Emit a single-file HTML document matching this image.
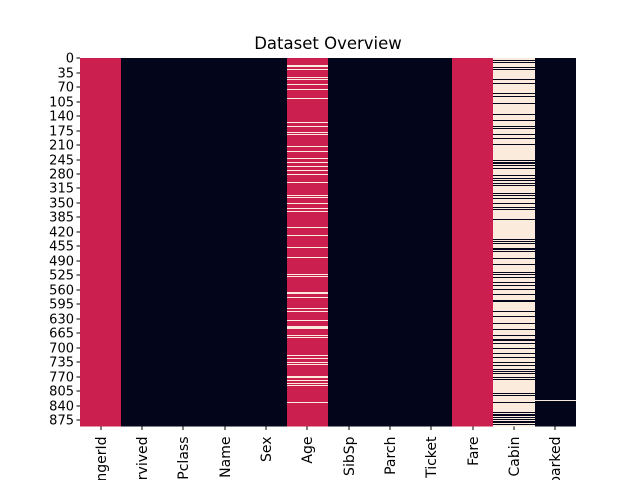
<!DOCTYPE html>
<html><head><meta charset="utf-8"><style>
html,body{margin:0;background:#fff;width:640px;height:480px;overflow:hidden;}
svg{display:block;font-family:"DejaVu Sans","Liberation Sans",sans-serif;overflow:hidden;}
</style></head><body>
<svg id="chart" width="640" height="480" viewBox="0 0 640 480" shape-rendering="crispEdges">
<defs><clipPath id="frame"><rect x="0" y="0" width="640" height="480"/></clipPath></defs>
<text x="328" y="49" font-size="16.5" text-anchor="middle" fill="#000">Dataset Overview</text>
<g id="cells"></g>
<g id="yticks"></g>
<g id="xticks" clip-path="url(#frame)"></g>
</svg>
<script>
const columns=["PassengerId","Survived","Pclass","Name","Sex","Age","SibSp","Parch","Ticket","Fare","Cabin","Embarked"];
const baseValue=[0.5,0,0,0,0,0.5,0,0,0,0.5,1,0];
const ageMissing=[19,20,27,46,53,63,75,99,155,165,166,179,184,213,225,242,252,262,272,281,300,301,332,337,352,363,364,371,410,411,429,458,482,524,528,567,570,579,606,613,635,650,652,653,671,676,720,727,737,742,771,773,780,788,793,832];
const cabinPresent=[7,10,22,27,28,51,52,61,87,94,109,136,150,165,170,184,194,208,209,247,248,252,255,259,267,284,291,296,303,304,308,327,328,332,339,351,361,366,390,439,444,448,461,462,463,468,485,499,500,519,524,531,543,550,560,572,587,588,613,625,642,657,672,681,682,691,703,715,725,737,744,752,759,764,773,778,810,815,834,858,861,865,870,873,878,882,887];
const embarkedMissing=[829];
const nRows=891;
const yTickLabels=[0,35,70,105,140,175,210,245,280,315,350,385,420,455,490,525,560,595,630,665,700,735,770,805,840,875];

const L=80,R=576,T=58,B=426.5;
const colW=(R-L)/columns.length, rowH=(B-T)/nRows;
const xCol=i=>L+i*colW;
const yRow=r=>T+r*rowH;
function color(v){return v>=1?"#faebdd":(v<=0?"#03051a":"#cb1f4f");}
const NS="http://www.w3.org/2000/svg";
const cells=document.getElementById("cells");
function rect(x,y,w,h,fill,name){
  const r=document.createElementNS(NS,"rect");
  r.setAttribute("x",x);r.setAttribute("y",y);r.setAttribute("width",w);r.setAttribute("height",h);r.setAttribute("fill",fill);
  
  
  cells.appendChild(r);
}
columns.forEach((c,i)=>rect(Math.round(xCol(i)),T,Math.round(xCol(i+1))-Math.round(xCol(i)),B-T,color(baseValue[i]),"column-"+c.toLowerCase()));
function stripes(list,ci,v,name){
  const x0=Math.round(xCol(ci)), x1=Math.round(xCol(ci+1));
  list.forEach(r=>rect(x0,Math.floor(yRow(r)),x1-x0,1,color(v),name));
}
stripes(ageMissing,5,1,"age-missing-cell");
stripes(cabinPresent,10,0,"cabin-present-cell");
stripes(embarkedMissing,11,1,"embarked-missing-cell");

const yt=document.getElementById("yticks");
yTickLabels.forEach(v=>{
  const y=Math.round(yRow(v+0.5));
  const l=document.createElementNS(NS,"line");
  l.setAttribute("x1",L-3.5);l.setAttribute("x2",L);l.setAttribute("y1",y);l.setAttribute("y2",y);l.setAttribute("stroke","#000");l.setAttribute("stroke-width","1");
  
  
  yt.appendChild(l);
  const t=document.createElementNS(NS,"text");
  t.setAttribute("x",L-6);t.setAttribute("y",y+4.5);t.setAttribute("font-size","13");t.setAttribute("text-anchor","end");
  t.textContent=v;
  
  
  yt.appendChild(t);
});
const xt=document.getElementById("xticks");
columns.forEach((c,i)=>{
  const x=Math.round(xCol(i)+colW/2);
  const l=document.createElementNS(NS,"line");
  l.setAttribute("x1",x);l.setAttribute("x2",x);l.setAttribute("y1",B);l.setAttribute("y2",B+3.5);l.setAttribute("stroke","#000");l.setAttribute("stroke-width","1");
  
  
  xt.appendChild(l);
  const t=document.createElementNS(NS,"text");
  t.setAttribute("transform","translate("+(x+5)+","+(B+10)+") rotate(-90)");
  t.setAttribute("font-size","14");t.setAttribute("text-anchor","end");
  t.textContent=c;
  
  
  xt.appendChild(t);
});
</script>
</body></html>
